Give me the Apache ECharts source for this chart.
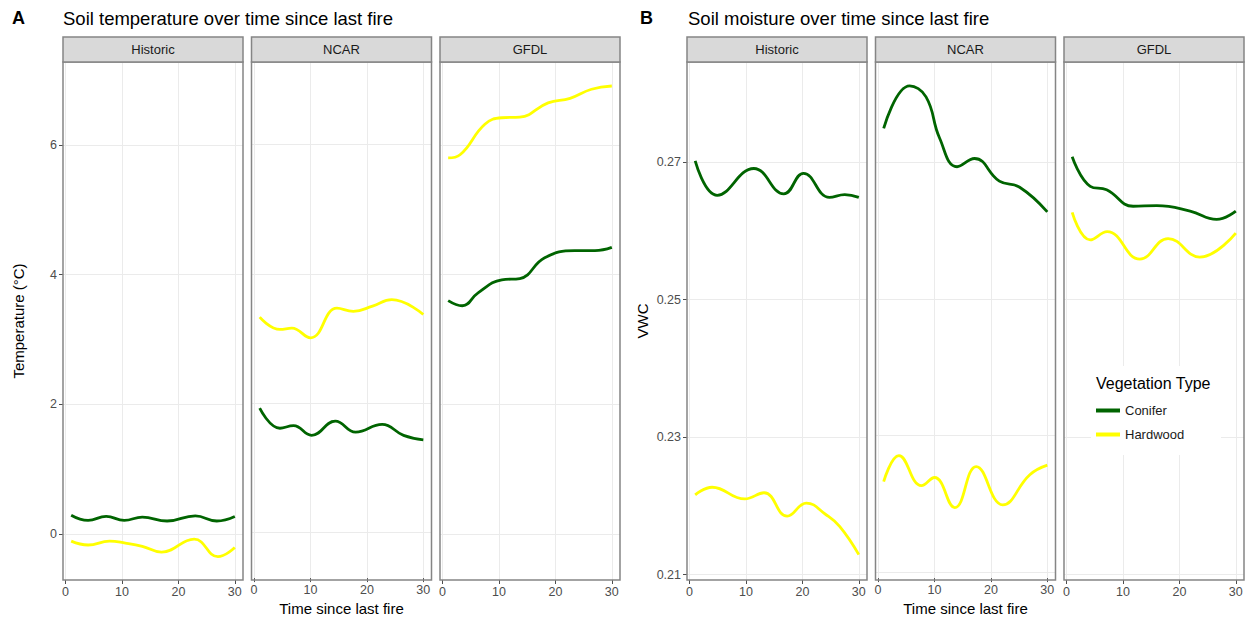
<!DOCTYPE html>
<html>
<head>
<meta charset="utf-8">
<script src="https://cdn.jsdelivr.net/npm/echarts@6.0.0/dist/echarts.min.js"></script>
<style>
  html, body { margin: 0; padding: 0; background: #ffffff; }
  #chart { width: 1247px; height: 621px; }
</style>
</head>
<body>
<div id="chart"></div>
<script>
// ---- Data -------------------------------------------------------------
const facets = ['Historic', 'NCAR', 'GFDL'];
const vegetationTypes = ['Conifer', 'Hardwood'];
const timeTicks = [0, 10, 20, 30];
const tempTicks = [0, 2, 4, 6];
const moistureTicks = [0.21, 0.23, 0.25, 0.27];

// Soil temperature (°C), [years since last fire, value]
const tempConiferHistoric = [[1, 0.29], [4, 0.21], [7.2, 0.27], [10.4, 0.21], [13.6, 0.26], [18, 0.20], [23, 0.28], [26.8, 0.20], [30, 0.27]];
const tempHardwoodHistoric = [[1, -0.11], [4, -0.17], [7.8, -0.11], [10.6, -0.14], [13.6, -0.19], [17, -0.28], [22.8, -0.08], [27, -0.35], [30, -0.21]];
const tempConiferNCAR = [[1, 1.92], [4.6, 1.61], [7, 1.65], [10.2, 1.50], [14.4, 1.72], [18, 1.55], [22.7, 1.67], [26.5, 1.50], [30, 1.43]];
const tempHardwoodNCAR = [[1, 3.33], [4.6, 3.14], [6.7, 3.16], [10, 3.01], [14.7, 3.47], [17.6, 3.42], [21, 3.50], [24.4, 3.60], [30, 3.37]];
const tempConiferGFDL = [[1, 3.60], [3.5, 3.52], [6.3, 3.72], [10.5, 3.92], [13.7, 3.94], [18.1, 4.26], [23.4, 4.37], [27, 4.37], [30, 4.42]];
const tempHardwoodGFDL = [[1, 5.80], [3.1, 5.85], [7.5, 6.32], [10.5, 6.42], [13.7, 6.43], [18.7, 6.65], [22.6, 6.72], [26.4, 6.86], [30, 6.91]];

// Soil moisture (VWC), [years since last fire, value]
const vwcConiferHistoric = [[1, 0.2702], [4.9, 0.2652], [11.4, 0.2691], [16.7, 0.2654], [20.2, 0.2684], [24.8, 0.2649], [27.5, 0.2653], [30, 0.2649]];
const vwcHardwoodHistoric = [[1, 0.2216], [4, 0.2227], [9.8, 0.2210], [13.2, 0.2219], [17.3, 0.2185], [20.7, 0.2204], [24.2, 0.2187], [26.6, 0.2170], [30, 0.2129]];
const vwcConiferNCAR = [[1, 0.2749], [5.6, 0.2811], [8.5, 0.2795], [10.9, 0.2735], [14, 0.2693], [17.1, 0.2705], [21.5, 0.2672], [25.1, 0.2663], [30, 0.2627]];
const vwcHardwoodNCAR = [[1, 0.2233], [3.7, 0.2271], [7.7, 0.2227], [10, 0.2239], [13.6, 0.2195], [17.4, 0.2255], [22.1, 0.2199], [26.9, 0.2243], [30, 0.2257]];
const vwcConiferGFDL = [[1, 0.2708], [4.2, 0.2665], [7.1, 0.2660], [11.8, 0.2636], [16, 0.2637], [21.9, 0.2629], [26.6, 0.2617], [30, 0.2629]];
const vwcHardwoodGFDL = [[1, 0.2627], [4.2, 0.2587], [7.2, 0.2599], [13, 0.2559], [18, 0.2589], [23.6, 0.2562], [30, 0.2597]];

// ---- Styling & layout -------------------------------------------------
const FONT = '"Liberation Sans", Arial, Helvetica, sans-serif';
const COLORS = { Conifer: '#006400', Hardwood: '#ffff00' };
const GRID_LINE = '#ebebeb';
const BORDER = '#858585';
const PANEL_W = 180;
const PANEL_TOP = 62;
const PANEL_H = 518;
const STRIP_TOP = 37;
const STRIP_H = 25;

const rows = [
  {
    letter: 'A', letterX: 12, titleX: 63,
    title: 'Soil temperature over time since last fire',
    lefts: [63, 251.5, 440],
    yMin: -0.71, yMax: 7.28, yStep: 1,
    yTicks: tempTicks, yFormat: v => String(Math.round(v)),
    yName: 'Temperature (°C)',
    conifer: [tempConiferHistoric, tempConiferNCAR, tempConiferGFDL],
    hardwood: [tempHardwoodHistoric, tempHardwoodNCAR, tempHardwoodGFDL]
  },
  {
    letter: 'B', letterX: 640, titleX: 688,
    title: 'Soil moisture over time since last fire',
    lefts: [687, 875.5, 1064],
    yMin: 0.2092, yMax: 0.2846, yStep: 0.01,
    yTicks: moistureTicks, yFormat: v => v.toFixed(2),
    yName: 'VWC',
    conifer: [vwcConiferHistoric, vwcConiferNCAR, vwcConiferGFDL],
    hardwood: [vwcHardwoodHistoric, vwcHardwoodNCAR, vwcHardwoodGFDL]
  }
];

const grids = [], xAxes = [], yAxes = [], series = [], graphics = [];

rows.forEach(row => {
  graphics.push({
    type: 'text', left: row.letterX, top: 9, z: 60,
    style: { text: row.letter, font: 'bold 18px ' + FONT, fill: '#000' }
  });
  graphics.push({
    type: 'text', left: row.titleX, top: 9, z: 60,
    style: { text: row.title, font: '18.5px ' + FONT, fill: '#000' }
  });

  row.lefts.forEach((left, j) => {
    const g = grids.length;
    grids.push({ left: left, top: PANEL_TOP, width: PANEL_W, height: PANEL_H, containLabel: false, show: false });

    xAxes.push({
      type: 'value', gridIndex: g, min: -0.45, max: 31.45, minInterval: 5, maxInterval: 5,
      position: 'bottom',
      axisLine: { show: false, onZero: false },
      axisTick: { show: true, customValues: timeTicks, length: 4, lineStyle: { color: '#4d4d4d', width: 1 } },
      axisLabel: {
        show: true, customValues: timeTicks, margin: 5,
        formatter: v => (Math.abs(v % 10) < 1e-6 ? String(Math.round(v)) : ''),
        fontSize: 12.5, color: '#4d4d4d', fontFamily: FONT
      },
      splitLine: { show: true, lineStyle: { color: GRID_LINE, width: 1 } },
      name: j === 1 ? 'Time since last fire' : '',
      nameLocation: 'middle', nameGap: 21,
      nameTextStyle: { fontSize: 15, color: '#000', fontFamily: FONT }
    });

    const first = j === 0;
    yAxes.push({
      type: 'value', gridIndex: g, min: row.yMin, max: row.yMax,
      minInterval: row.yStep, maxInterval: row.yStep,
      position: 'left',
      axisLine: { show: false, onZero: false },
      axisTick: { show: first, customValues: row.yTicks, length: 4, lineStyle: { color: '#4d4d4d', width: 1 } },
      axisLabel: {
        show: first, customValues: row.yTicks, margin: 6,
        formatter: row.yFormat,
        fontSize: 12.5, color: '#4d4d4d', fontFamily: FONT
      },
      splitLine: { show: true, lineStyle: { color: GRID_LINE, width: 1 } },
      name: first ? row.yName : '',
      nameLocation: 'middle', nameGap: 37, nameRotate: 90,
      nameTextStyle: { fontSize: 15, color: '#000', fontFamily: FONT }
    });

    [['Conifer', row.conifer[j]], ['Hardwood', row.hardwood[j]]].forEach(([name, data]) => {
      series.push({
        type: 'line', name: name, xAxisIndex: g, yAxisIndex: g,
        data: data, showSymbol: false, smooth: 0.45,
        lineStyle: { width: 2.8, color: COLORS[name] },
        itemStyle: { color: COLORS[name] },
        emphasis: { disabled: true }, z: 2
      });
    });

    // panel border
    graphics.push({
      type: 'rect', z: 50, silent: true,
      shape: { x: left, y: PANEL_TOP, width: PANEL_W, height: PANEL_H },
      style: { fill: 'none', stroke: BORDER, lineWidth: 1.5 }
    });
    // facet strip
    graphics.push({
      type: 'rect', z: 51, silent: true,
      shape: { x: left, y: STRIP_TOP, width: PANEL_W, height: STRIP_H },
      style: { fill: '#d9d9d9', stroke: BORDER, lineWidth: 1.5 }
    });
    graphics.push({
      type: 'text', z: 52, silent: true,
      x: left + PANEL_W / 2, y: STRIP_TOP + STRIP_H / 2,
      style: { text: facets[j], font: '13px ' + FONT, fill: '#1a1a1a', align: 'center', verticalAlign: 'middle' }
    });
  });
});

// legend backdrop and heading
graphics.push({
  type: 'rect', z: 3, silent: true,
  shape: { x: 1091, y: 366, width: 130, height: 89 },
  style: { fill: '#ffffff' }
});
graphics.push({
  type: 'text', z: 5, silent: true, x: 1096, y: 383,
  style: { text: 'Vegetation Type', font: '16px ' + FONT, fill: '#000', verticalAlign: 'middle' }
});

const chart = echarts.init(document.getElementById('chart'), null, { renderer: 'svg' });
chart.setOption({
  animation: false,
  backgroundColor: '#ffffff',
  textStyle: { fontFamily: FONT },
  grid: grids,
  xAxis: xAxes,
  yAxis: yAxes,
  series: series,
  legend: {
    data: vegetationTypes,
    orient: 'vertical', left: 1096, top: 404,
    padding: 0, itemGap: 11, itemWidth: 24, itemHeight: 4, icon: 'rect',
    textStyle: { fontSize: 13, color: '#1a1a1a', fontFamily: FONT },
    z: 4
  },
  graphic: graphics
});
</script>
</body>
</html>
